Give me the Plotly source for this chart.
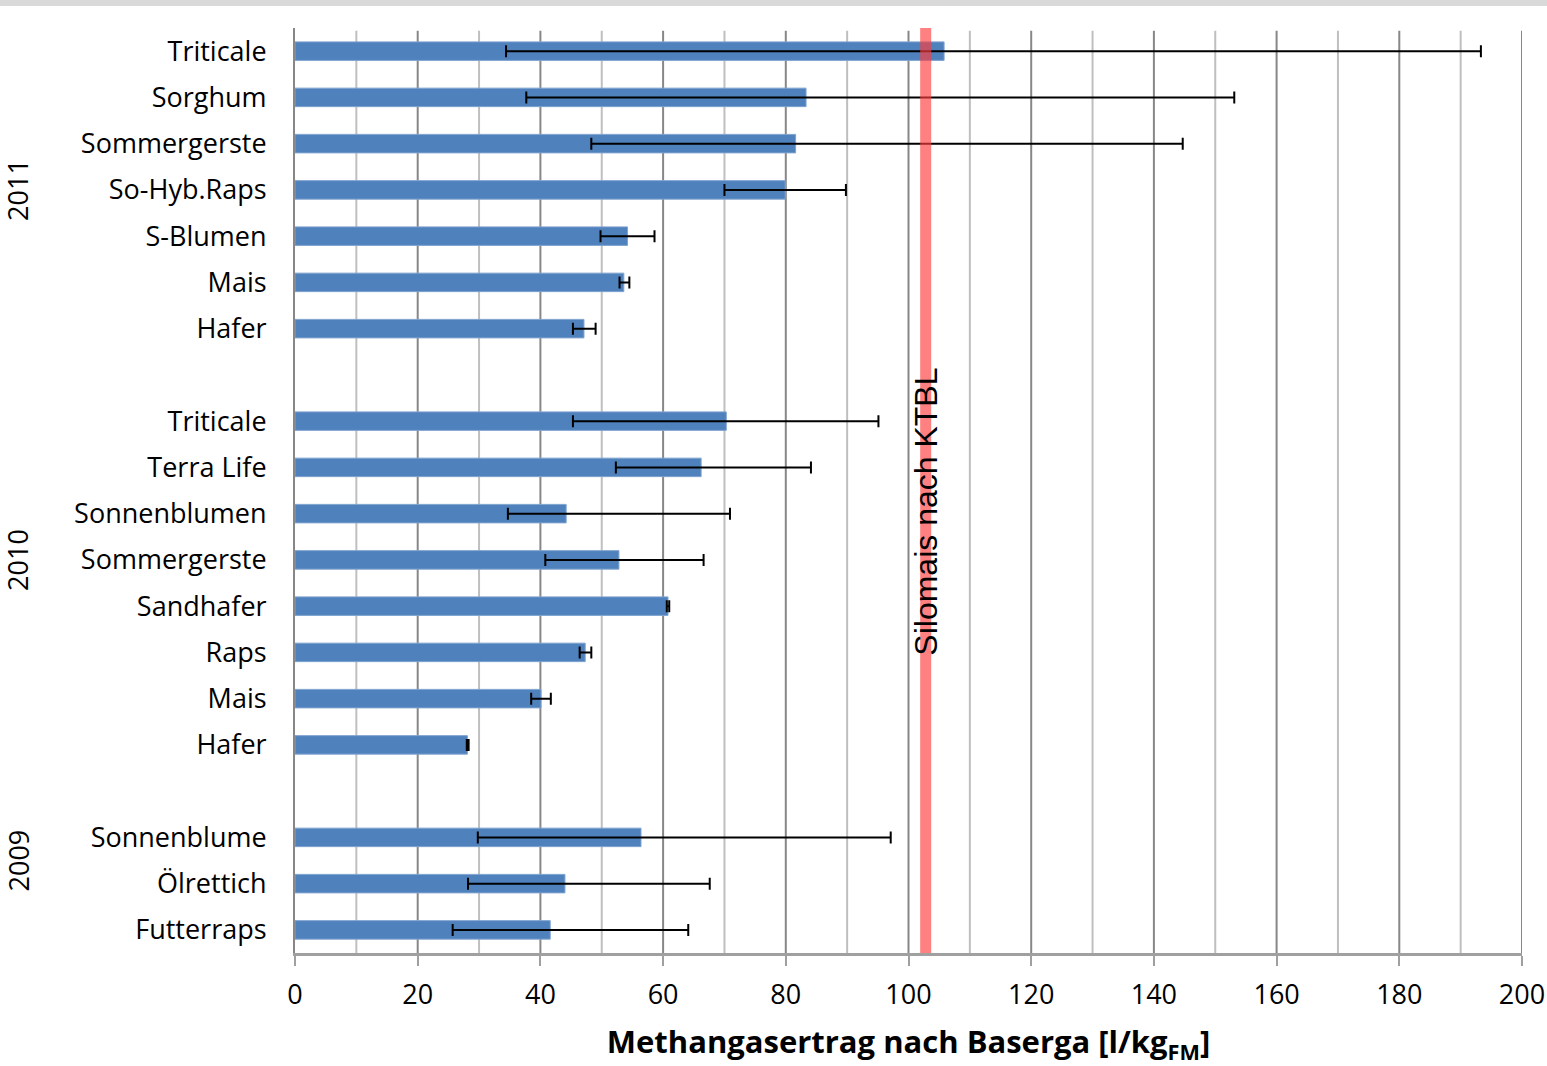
import plotly.graph_objects as go

# ---- data ----
years = ["2011", "2010", "2009"]
names_2011 = ["Triticale", "Sorghum", "Sommergerste", "So-Hyb.Raps", "S-Blumen", "Mais", "Hafer"]
vals_2011 = [105.8, 83.3, 81.6, 79.9, 54.2, 53.6, 47.1]
err_lo_2011 = [34.4, 37.7, 48.3, 70.0, 49.8, 52.9, 45.3]
err_hi_2011 = [193.3, 153.1, 144.7, 89.8, 58.6, 54.5, 49.0]

names_2010 = ["Triticale", "Terra Life", "Sonnenblumen", "Sommergerste", "Sandhafer", "Raps", "Mais", "Hafer"]
vals_2010 = [70.3, 66.2, 44.2, 52.8, 60.8, 47.3, 40.1, 28.1]
err_lo_2010 = [45.3, 52.3, 34.7, 40.8, 60.6, 46.4, 38.5, 28.0]
err_hi_2010 = [95.1, 84.1, 70.9, 66.6, 61.0, 48.3, 41.7, 28.3]

names_2009 = ["Sonnenblume", "Ölrettich", "Futterraps"]
vals_2009 = [56.4, 44.0, 41.6]
err_lo_2009 = [29.8, 28.2, 25.7]
err_hi_2009 = [97.1, 67.6, 64.1]

ktbl_value = 102.8
ktbl_label = "Silomais nach KTBL"
x_title = "Methangasertrag nach Baserga [l/kg<sub>FM</sub>]"
x_ticks = list(range(0, 201, 20))

# ---- build positions (one empty slot between year groups) ----
groups = [
    (names_2011, vals_2011, err_lo_2011, err_hi_2011),
    (names_2010, vals_2010, err_lo_2010, err_hi_2010),
    (names_2009, vals_2009, err_lo_2009, err_hi_2009),
]
ypos, labels, vals, eminus, eplus = [], [], [], [], []
year_pos = []
slot = 0
for gi, (nm, v, lo, hi) in enumerate(groups):
    start = slot if gi == 0 else slot - 1
    for n, val, l, h in zip(nm, v, lo, hi):
        ypos.append(slot)
        labels.append(n)
        vals.append(val)
        eminus.append(val - l)
        eplus.append(h - val)
        slot += 1
    year_pos.append((start + slot - 1) / 2)
    slot += 1
n_slots = slot - 1

BLUE = "#4F81BD"
FONT = "Open Sans"

fig = go.Figure()
fig.add_trace(go.Bar(
    x=vals, y=ypos, orientation="h", width=0.4,
    marker=dict(color=BLUE, line=dict(color="#7FA3CF", width=1)),
    error_x=dict(type="data", symmetric=False, array=eplus, arrayminus=eminus,
                 color="black", thickness=2, width=6),
    showlegend=False, hoverinfo="x+y",
))

# minor gridlines (every 10) lighter, major (every 20) darker
shapes = []
for v in range(10, 201, 20):
    shapes.append(dict(type="line", xref="x", yref="paper", x0=v, x1=v, y0=0, y1=0.997,
                       line=dict(color="#BFBFBF", width=2), layer="below"))
for v in range(20, 201, 20):
    shapes.append(dict(type="line", xref="x", yref="paper", x0=v, x1=v, y0=0, y1=0.997,
                       line=dict(color="#878787", width=2), layer="below"))
# KTBL reference line
shapes.append(dict(type="line", xref="x", yref="paper", x0=ktbl_value, x1=ktbl_value, y0=0, y1=1.0,
                   line=dict(color="rgba(255,60,60,0.65)", width=11), layer="above"))
# top grey band
shapes.append(dict(type="rect", xref="paper", yref="paper", x0=-0.25, x1=1.03,
                   y0=(953 - 6) / 925, y1=(953 + 2) / 925,
                   line=dict(width=0), fillcolor="#D9D9D9"))

annotations = []
for yr, yp in zip(years, year_pos):
    annotations.append(dict(text=yr, xref="paper", yref="y", x=(18 - 295) / 1227, y=yp,
                            textangle=-90, showarrow=False, xanchor="center", yanchor="middle",
                            font=dict(family=FONT, size=27, color="black")))
annotations.append(dict(text=ktbl_label, xref="x", yref="paper", x=ktbl_value, y=(953 - 512) / 925,
                        textangle=-90, showarrow=False, xanchor="center", yanchor="middle",
                        font=dict(family="Liberation Sans, Arial", size=32, color="black")))

fig.update_layout(
    width=1547, height=1066,
    margin=dict(l=295, r=25, t=28, b=113),
    paper_bgcolor="white", plot_bgcolor="white",
    bargap=0.6,
    shapes=shapes, annotations=annotations,
    font=dict(family=FONT, color="black"),
)
fig.update_xaxes(
    automargin=False,
    range=[0, 200], tickvals=x_ticks, ticktext=[str(t) for t in x_ticks],
    showgrid=False, zeroline=False,
    showline=True, linecolor="#A0A0A0", linewidth=3,
    ticks="outside", ticklen=10, tickwidth=2, tickcolor="#A0A0A0",
    ticklabelstandoff=6,
    tickfont=dict(family=FONT, size=27, color="black"),
    title=dict(text=x_title, font=dict(family=FONT, size=31, color="black", weight="bold"), standoff=24),
)
fig.update_yaxes(
    automargin=False,
    range=[n_slots - 0.5, -0.5], tickvals=ypos, ticktext=labels,
    showgrid=False, zeroline=False,
    showline=True, linecolor="#878787", linewidth=2,
    ticks="", ticklen=0, ticklabelstandoff=21,
    tickfont=dict(family=FONT, size=27, color="black"),
)

fig.write_html(
    "out.html",
    config={"displayModeBar": False},
    post_script="document.body.style.margin='0';document.body.style.overflow='hidden';",
)
